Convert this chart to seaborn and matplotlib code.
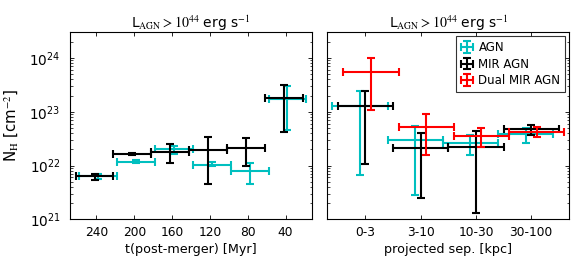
import numpy as np
import matplotlib
matplotlib.use("Agg")
import matplotlib.pyplot as plt
import seaborn as sns

# ---------------- data ----------------
# left panel: time since merger bins (Myr), half-width of bins
t_bins = [240, 200, 160, 120, 80, 40]
t_halfwidth = 20

agn_t_nh = [6.3e21, 1.18e22, 2.0e22, 1.04e22, 8.0e21, 1.7e23]
agn_t_lo = [5.5e21, 1.12e22, 1.62e22, 0.96e22, 4.6e21, 4.5e22]
agn_t_hi = [7.0e21, 1.24e22, 2.3e22, 1.14e22, 1.1e22, 2.95e23]

mir_t_nh = [6.3e21, 1.66e22, 1.8e22, 1.95e22, 2.15e22, 1.77e23]
mir_t_lo = [5.3e21, 1.58e22, 1.1e22, 4.5e21, 1.0e22, 4.2e22]
mir_t_hi = [7.1e21, 1.74e22, 2.5e22, 3.4e22, 3.25e22, 3.2e23]

# right panel: projected separation bins
sep_labels = ["0-3", "3-10", "10-30", "30-100"]

agn_s_nh = [1.27e23, 2.94e22, 2.62e22, 3.89e22]
agn_s_lo = [6.6e21, 2.8e21, 1.6e22, 2.63e22]
agn_s_hi = [2.46e23, 5.5e22, 3.67e22, 4.9e22]

mir_s_nh = [1.27e23, 2.14e22, 2.19e22, 4.8e22]
mir_s_lo = [1.07e22, 2.45e21, 1.32e21, 3.7e22]
mir_s_hi = [2.4e23, 4.0e22, 4.37e22, 5.75e22]

dual_s_nh = [5.37e23, 5.25e22, 3.55e22, 4.27e22]
dual_s_lo = [1.1e23, 1.58e22, 2.19e22, 3.39e22]
dual_s_hi = [1.0e24, 8.9e22, 4.9e22, 5.13e22]

series_names = ["AGN", "MIR AGN", "Dual MIR AGN"]
series_colors = ["#00bfbf", "black", "red"]

# ---------------- style ----------------
sns.set_theme(style="ticks")
plt.rcParams.update({
    "font.family": ["DejaVu Sans"],
    "mathtext.fontset": "stix",
    "font.size": 8.5,
    "axes.labelsize": 9.2,
    "axes.titlesize": 10,
    "axes.linewidth": 0.8,
    "xtick.direction": "in",
    "ytick.direction": "in",
    "xtick.top": True,
    "ytick.right": True,
    "xtick.major.size": 3.2,
    "ytick.major.size": 3.2,
    "ytick.minor.size": 1.8,
    "ytick.minor.visible": True,
    "xtick.major.width": 0.6,
    "ytick.major.width": 0.6,
    "ytick.minor.width": 0.5,
    "xtick.labelsize": 8.8,
    "ytick.labelsize": 9.8,
    "legend.fontsize": 8.5,
    "axes.edgecolor": "black",
    "xtick.color": "black",
    "ytick.color": "black",
    "text.color": "black",
    "axes.labelcolor": "black",
})

fig = plt.figure(figsize=(5.81, 2.68), dpi=100)
W = 242 / 581
B = 1 - 219.3 / 268
H = (219.3 - 32.3) / 268
ax1 = fig.add_axes([70 / 581, B, W, H])
ax2 = fig.add_axes([327.3 / 581, B, W, H], sharey=ax1)

lw = 1.5
ekw = dict(fmt="none", elinewidth=lw, capsize=2.6, capthick=lw)


def yerr(v, lo, hi):
    v = np.asarray(v)
    return [v - np.asarray(lo), np.asarray(hi) - v]


tb = np.asarray(t_bins, dtype=float)
ax1.errorbar(tb - 2, agn_t_nh, xerr=t_halfwidth, yerr=yerr(agn_t_nh, agn_t_lo, agn_t_hi),
             color=series_colors[0], label=series_names[0], **ekw)
ax1.errorbar(tb + 2, mir_t_nh, xerr=t_halfwidth, yerr=yerr(mir_t_nh, mir_t_lo, mir_t_hi),
             color=series_colors[1], label=series_names[1], **ekw)

xs = np.arange(len(sep_labels), dtype=float)
ax2.errorbar(xs - 0.1, agn_s_nh, xerr=0.5, yerr=yerr(agn_s_nh, agn_s_lo, agn_s_hi),
             color=series_colors[0], label=series_names[0], **ekw)
ax2.errorbar(xs, mir_s_nh, xerr=0.5, yerr=yerr(mir_s_nh, mir_s_lo, mir_s_hi),
             color=series_colors[1], label=series_names[1], **ekw)
ax2.errorbar(xs + 0.1, dual_s_nh, xerr=0.5, yerr=yerr(dual_s_nh, dual_s_lo, dual_s_hi),
             color=series_colors[2], label=series_names[2], **ekw)

ax1.set_yscale("log")
ax1.set_ylim(1e21, 3e24)
ax1.set_xlim(268, 12)
ax1.set_xticks(t_bins)
ax1.set_xticklabels([str(t) for t in t_bins])
ax1.set_xlabel("t(post-merger) [Myr]", labelpad=3)
ax1.set_ylabel(r"N$_{\rm H}$ [cm$^{-2}$]", fontsize=10.8, labelpad=6)

ax2.set_xlim(-0.69, 3.69)
ax2.set_xticks(xs)
ax2.set_xticklabels(sep_labels)
ax2.set_xlabel("projected sep. [kpc]", labelpad=3)
plt.setp(ax2.get_yticklabels(), visible=False)

title = r"L$_{\rm AGN}>10^{44}$ erg s$^{-1}$"
for ax in (ax1, ax2):
    ax.set_title(title, pad=3)
    ax.tick_params(axis="x", which="minor", top=False, bottom=False)
    ax.tick_params(axis="both", which="both", direction="in", top=True, right=True)
    ax.tick_params(axis="x", pad=4.5)
    ax.tick_params(axis="y", pad=7)

leg = ax2.legend(loc="upper right", frameon=True, fancybox=False,
                 borderaxespad=0.35, handlelength=1.0, handletextpad=0.5,
                 labelspacing=0.3, borderpad=0.4)
leg.get_frame().set_edgecolor("black")
leg.get_frame().set_linewidth(0.8)

fig.savefig("out.png", dpi=100)
